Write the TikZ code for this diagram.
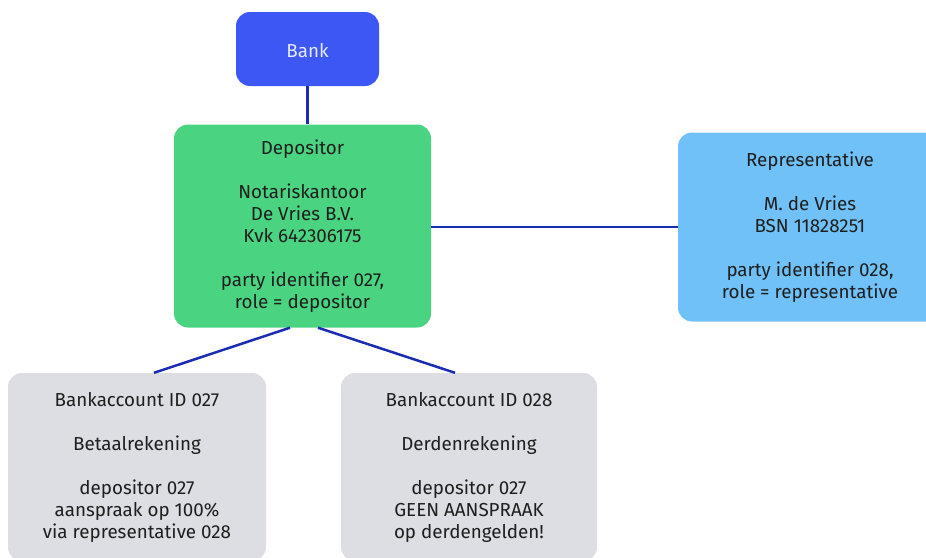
\documentclass[tikz,border=0pt]{standalone}
\usepackage{fontspec}
\setmainfont{Fira Sans}
\usetikzlibrary{calc}
\definecolor{bankblue}{HTML}{3D57F5}
\definecolor{depgreen}{HTML}{4AD482}
\definecolor{repblue}{HTML}{70C1F8}
\definecolor{accgray}{HTML}{DCDEE3}
\definecolor{linkblue}{HTML}{1A2DB0}
\definecolor{txt}{HTML}{1E1E1E}
\begin{document}
\begin{tikzpicture}[x=1pt,y=-1pt,
  box/.style={rectangle, rounded corners=14pt, inner sep=0pt, align=center, text=txt,
    font=\fontsize{18.8}{22}\selectfont, execute at begin node={\rule{0pt}{17.5pt}}},
  link/.style={draw=linkblue, line width=2.5pt}]
\useasboundingbox (0,0) rectangle (926,557);
\clip (0,0) rectangle (926,557);
\node[box, fill=bankblue, text=white!88!bankblue, minimum width=143pt, minimum height=74pt] (bank) at (307.5,49) {Bank};
\node[box, fill=depgreen, minimum width=257pt, minimum height=203pt] (dep) at (302.5,226)
  {Depositor\\[22pt]Notariskantoor\\De Vries B.V.\\Kvk 642306175\\[22pt]party identifier 027,\\role = depositor};
\node[box, fill=repblue, minimum width=264pt, minimum height=189pt] (rep) at (810,227)
  {Representative\\[22pt]M. de Vries\\BSN 11828251\\[22pt]party identifier 028,\\role = representative};
\node[box, fill=accgray, minimum width=258pt, minimum height=188pt] (acc1) at (137,467)
  {Bankaccount ID 027\\[22pt]Betaalrekening\\[22pt]depositor 027\\aanspraak op 100\%\\via representative 028};
\node[box, fill=accgray, minimum width=256pt, minimum height=188pt] (acc2) at (469,467)
  {Bankaccount ID 028\\[22pt]Derdenrekening\\[22pt]depositor 027\\GEEN AANSPRAAK\\op derdengelden!};
\draw[link] (bank.south) -- (bank.south |- dep.north);
\draw[link] (rep.west -| dep.east) -- (rep.west);
\draw[link] ($(dep.south)+(-12.5,0)$) -- ($(acc1.north)+(17,0)$);
\draw[link] ($(dep.south)+(15.5,0)$) -- ($(acc2.north)+(-14,0)$);
\end{tikzpicture}
\end{document}
